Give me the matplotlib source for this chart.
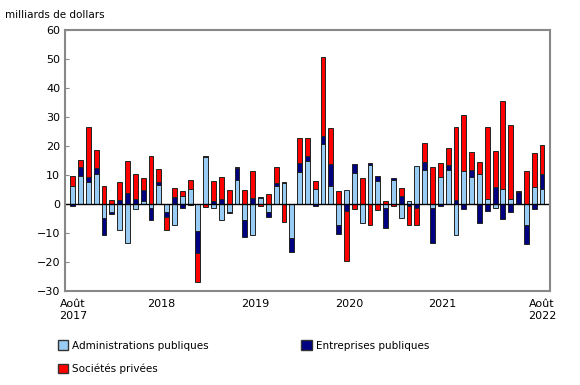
import numpy as np
import matplotlib
matplotlib.use("Agg")
import matplotlib.pyplot as plt
from matplotlib.patches import Patch

# monthly values, Aug 2017 to Aug 2022 (billions of dollars)
admin = [6.1, 9.8, 7.6, 10.3, -4.7, -2.9, -9.1, -13.5, -1.6, 0.9,
         -1.5, 6.7, -2.7, -7.3, 2.8, 5.2, -9.2, 16.1, -1.5, -5.5,
         -2.9, 8.2, -5.4, -10.7, 2.1, -2.7, 6.3, 7.4, -11.6, 11.1,
         15.0, 5.3, 20.8, 6.1, -7.3, 4.8, 10.6, -6.6, 13.3, 7.8,
         -1.3, 8.2, -4.8, 1.0, 13.1, 11.9, -1.5, 9.2, 11.9, -10.7,
         11.3, 9.2, 10.3, 1.8, -1.4, 5.2, 1.7, 0.0, -7.2, 6.0, 5.2]
entreprises = [-0.8, 3.0, 1.7, 2.0, -5.8, -0.6, 1.3, 3.7, 1.6, 3.9,
               -4.0, 0.8, -1.7, 2.4, -1.5, -0.3, -7.8, 0.6, 0.9, 1.7,
               -0.2, 4.3, -5.8, 2.1, 0.4, -1.7, 1.0, 0.3, -4.8, 3.2,
               1.5, -0.6, 2.5, 7.6, -3.1, -2.4, 3.2, 0.0, 0.9, 1.9,
               -7.0, 0.8, 2.8, -0.7, -1.3, 2.7, -12.0, -0.8, 1.6, 1.3,
               -1.8, 2.7, -6.6, -2.4, 5.8, -5.3, -2.7, 4.0, -6.6, -1.7, 5.2]
privees = [3.4, 2.4, 17.1, 6.4, 6.3, 1.4, 6.4, 11.2, 8.8, 4.2,
           16.4, 4.7, -4.6, 3.0, 1.8, 3.0, -9.9, -1.0, 7.1, 7.6,
           4.8, 0.3, 4.8, 9.3, -0.6, 3.3, 5.6, -6.3, 0.0, 8.4,
           6.2, 2.5, 27.3, 12.4, 4.4, -17.4, -1.7, 8.9, -7.3, -2.1,
           1.0, -0.7, 2.7, -6.6, -5.9, 6.3, 12.8, 5.1, 5.9, 25.1,
           19.4, 5.9, 4.1, 24.8, 12.4, 30.4, 25.6, 0.6, 11.3, 11.5, 9.8]

year_labels = ["Août\n2017", "2018", "2019", "2020", "2021", "Août\n2022"]
year_pos = [0, 11.3, 23.3, 35.3, 47.3, 60]

names = ["Administrations publiques", "Entreprises publiques", "Sociétés privées"]
colors = ["#99CCF5", "#000080", "#FF0000"]

x = np.arange(len(admin))
fig = plt.figure(figsize=(5.8, 3.85), dpi=100)
ax = fig.add_axes([0.112, 0.244, 0.836, 0.678])

pos_bottom = np.zeros(len(x))
neg_bottom = np.zeros(len(x))
for vals, c in zip([admin, entreprises, privees], colors):
    v = np.array(vals)
    bottom = np.where(v >= 0, pos_bottom, neg_bottom)
    ax.bar(x, v, 0.62, bottom=bottom, color=c, edgecolor="#222222", linewidth=0.7)
    pos_bottom += np.where(v > 0, v, 0)
    neg_bottom += np.where(v < 0, v, 0)

ax.axhline(0, color="black", linewidth=1)
ax.set_xlim(-1, 61)
ax.set_ylim(-30, 60)
ax.set_yticks(range(-30, 61, 10))
ax.set_xticks(year_pos)
ax.set_xticklabels(year_labels)
ax.tick_params(axis="x", length=0, labelsize=8, pad=6)
ax.tick_params(axis="y", direction="in", length=3, labelsize=8, color="#888888")
for s in ax.spines.values():
    s.set_color("#888888")
    s.set_linewidth(1.5)

fig.text(0.008, 0.975, "milliards de dollars", fontsize=7.5, va="top")

handles = [Patch(facecolor=colors[0], edgecolor="#333333", label=names[0]),
           Patch(facecolor=colors[2], edgecolor="#333333", label=names[2]),
           Patch(facecolor=colors[1], edgecolor="#333333", label=names[1])]
fig.legend(handles=handles, ncol=2, loc="upper left", bbox_to_anchor=(0.083, 0.14),
           frameon=False, fontsize=7.5, handlelength=1, handleheight=1,
           columnspacing=8.9, labelspacing=1.25, handletextpad=0.4)

fig.savefig("out.png", dpi=100)
